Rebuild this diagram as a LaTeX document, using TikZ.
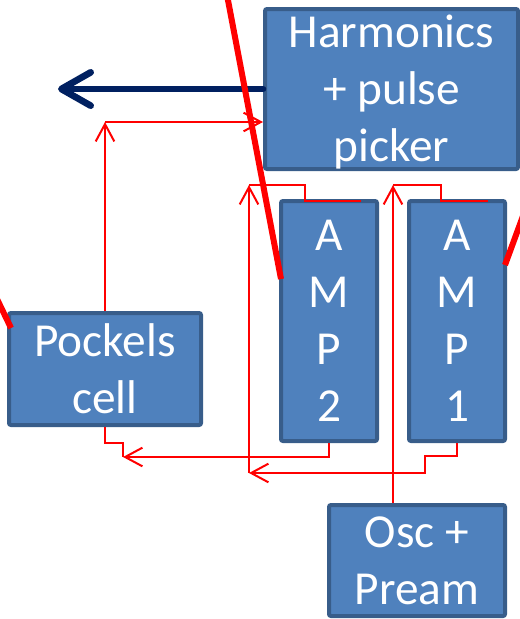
\documentclass[tikz,border=0pt]{standalone}
\usepackage{fontspec}
\setmainfont{Carlito}
\usetikzlibrary{arrows.meta}
\definecolor{boxfill}{HTML}{4F81BD}
\definecolor{boxline}{HTML}{385D8A}
\definecolor{navy}{HTML}{002060}
\definecolor{sigred}{HTML}{FF0000}
\tikzset{
  blk/.style={draw=boxline, fill=boxfill, line width=3pt, rounded corners=1.5pt,
    inner sep=0pt},
  lbl/.style={inner sep=0pt, align=center, text=white,
    font=\fontsize{35.5}{42.75}\selectfont},
  sig/.style={draw=sigred, line width=1.5pt},
  sigtip/.style={-{Straight Barb[length=13pt,width=14pt]}},
  beam/.style={draw=sigred, line width=4.5pt},
  outarrow/.style={draw=navy, line width=5pt, line cap=round,
    -{Straight Barb[length=22pt,width=25pt,round]}}
}
\begin{document}
\begin{tikzpicture}[x=0.75pt,y=-0.75pt]
\useasboundingbox (0,0) rectangle (520,619);
\clip (0,0) rectangle (520,619);
% blocks
\node[blk, minimum width=189.75pt, minimum height=120pt] (harm) at (391.5,89) {};
\node[lbl, yshift=-2.5pt] (harmtxt) at (harm.center) {Harmonics\\+ pulse\\picker};
\node[blk, minimum width=72pt, minimum height=180pt] (amp2) at (329,321) {};
\node[lbl] (amp2txt) at (amp2.center) {A\\M\\P\\2};
\node[blk, minimum width=72pt, minimum height=180pt] (amp1) at (457,321) {};
\node[lbl] (amp1txt) at (amp1.center) {A\\M\\P\\1};
\node[blk, minimum width=144pt, minimum height=84pt] (pock) at (105,369) {};
\node[lbl] (pocktxt) at (pock.center) {Pockels\\cell};
\node[blk, minimum width=132pt, minimum height=83.25pt] (osc) at (417,560.5) {};
\node[lbl] (osctxt) at (osc.center) {Osc +\\Pream};
% output arrow
\coordinate (out) at (58,89);
\draw[outarrow] (harm.west) -- (out);
% signal connectors
\coordinate (c1) at (105,122);
\draw[sig,sigtip] (pock.north) -- (c1);
\draw[sig,sigtip] (c1) -- (c1 -| harm.west);
\coordinate (j1) at (249,473);
\coordinate (j2) at (249,185);
\draw[sig,sigtip] (amp1.south) -- (457,456) -- (425,456) -- (425,473) -- (j1);
\draw[sig,sigtip] (j1) -- (j2);
\draw[sig] (j2) -- (305,185) -- (305,201) -- (361,201);
\coordinate (k2) at (393,185);
\draw[sig,sigtip] (osc.north -| k2) -- (k2);
\draw[sig] (k2) -- (441,185) -- (441,201) -- (488,201);
\coordinate (m) at (123,457);
\draw[sig,sigtip] (amp2.south) -- (329,457) -- (m);
\draw[sig] (pock.south) -- (105,443) -- (123,443) -- (m);
% laser beam segments
\coordinate (b1) at (227,-5);
\coordinate (b2) at (281,279);
\draw[beam] (b1) -- (b2);
\coordinate (b3) at (-3,299);
\coordinate (b4) at (11,328);
\draw[beam] (b3) -- (b4);
\coordinate (b5) at (505,265);
\coordinate (b6) at (523,216);
\draw[beam] (b5) -- (b6);
\end{tikzpicture}
\end{document}
